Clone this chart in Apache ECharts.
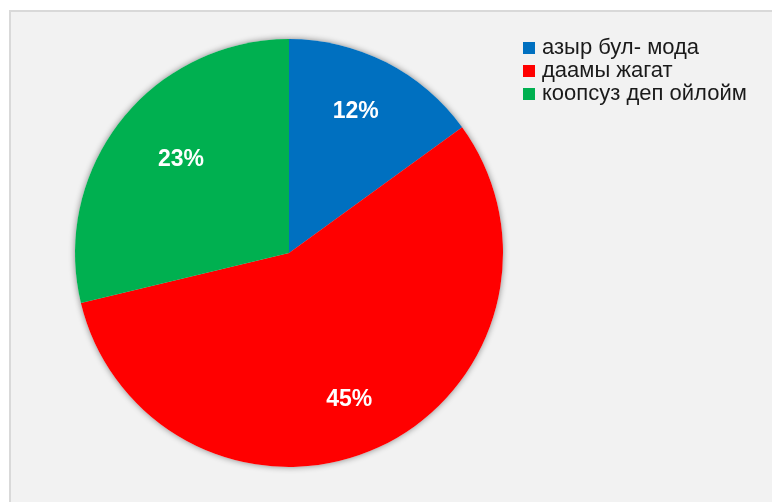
<!DOCTYPE html>
<html>
<head>
<meta charset="utf-8">
<script src="https://cdn.jsdelivr.net/npm/echarts@6/dist/echarts.min.js"></script>
<style>
  html, body { margin: 0; padding: 0; background: #ffffff; }
  #chart { width: 772px; height: 502px; }
</style>
</head>
<body>
<div id="chart"></div>
<script>
// Answer categories and their shares
const categories = ['азыр бул- мода', 'даамы жагат', 'коопсуз деп ойлойм'];
const values = [12, 45, 23];
const colors = ['#0070c0', '#ff0000', '#00b050'];

const center = [289, 253];
const radius = 214;

// small nudges for the percentage labels inside each slice
const labelNudge = [[-5, -1], [-6, 3], [16, 4]];

const chart = echarts.init(document.getElementById('chart'));

const sliceData = categories.map((name, i) => ({
  name: name,
  value: values[i],
  itemStyle: { color: colors[i] }
}));

chart.setOption({
  backgroundColor: '#ffffff',
  animation: false,
  graphic: [{
    type: 'rect',
    left: 9, top: 10,
    shape: { width: 800, height: 520 },
    style: { fill: '#f2f2f2', stroke: '#d9d9d9', lineWidth: 2 },
    z: -10
  }],
  legend: {
    orient: 'vertical',
    left: 518,
    top: 32,
    itemWidth: 12,
    itemHeight: 12,
    itemGap: 1,
    icon: 'rect',
    selectedMode: false,
    data: categories.map((name, i) => ({ name: name, itemStyle: { color: colors[i] } })),
    textStyle: {
      fontFamily: 'Liberation Sans',
      fontSize: 22,
      lineHeight: 22,
      color: '#1a1a1a',
      padding: [0, 0, 0, 2]
    }
  },
  series: [
    {
      // soft shadow under the whole pie
      type: 'pie',
      silent: true,
      center: center,
      radius: [0, radius],
      startAngle: 90,
      clockwise: true,
      label: { show: false },
      labelLine: { show: false },
      itemStyle: {
        color: '#f2f2f2',
        shadowBlur: 6,
        shadowColor: 'rgba(0,0,0,0.45)'
      },
      z: 1,
      data: categories.map((name, i) => ({ name: name + ' ', value: values[i] }))
    },
    {
      type: 'pie',
      center: center,
      radius: [0, radius],
      startAngle: 90,
      clockwise: true,
      label: { show: false },
      labelLine: { show: false },
      emphasis: { disabled: true },
      itemStyle: { borderWidth: 0 },
      z: 2,
      data: sliceData
    },
    {
      // percentage labels placed out toward the rim
      type: 'pie',
      silent: true,
      center: center,
      radius: [96, radius],
      startAngle: 90,
      clockwise: true,
      itemStyle: { color: 'rgba(0,0,0,0)' },
      labelLine: { show: false },
      z: 3,
      data: categories.map((name, i) => ({
        name: name,
        value: values[i],
        label: {
          show: true,
          position: 'inside',
          formatter: '{c}%',
          color: '#ffffff',
          fontFamily: 'Liberation Sans',
          fontWeight: 'bold',
          fontSize: 23,
          offset: labelNudge[i]
        }
      }))
    }
  ]
});
</script>
</body>
</html>
